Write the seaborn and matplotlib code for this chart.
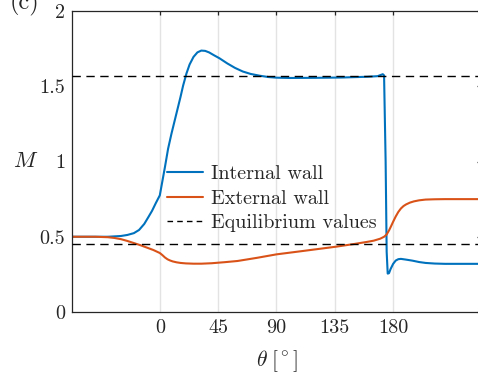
import matplotlib
matplotlib.use("Agg")
import matplotlib.pyplot as plt
from matplotlib.lines import Line2D
import pandas as pd
import seaborn as sns

# Wall mobility M along the bend angle theta (degrees)
theta_internal = [-67.5, -50, -40, -30, -25, -20, -16, -12, -9, -6, -3, 0,
                  2, 4, 6.4, 9, 11.6, 14, 16, 18, 20.6, 23, 26, 29, 32, 35,
                  38, 42, 46, 52, 58, 64, 70, 77, 84, 90, 100, 120, 140, 160,
                  168, 172, 173, 174.2, 175.0, 175.8, 176.8, 178, 180, 182,
                  184, 186, 190, 195, 200, 205, 212, 220, 248]
m_internal = [0.500, 0.500, 0.500, 0.505, 0.512, 0.524, 0.545, 0.585, 0.628, 0.672,
              0.725, 0.775, 0.870, 0.965, 1.085, 1.185, 1.276, 1.360, 1.430, 1.505,
              1.586, 1.645, 1.695, 1.725, 1.737, 1.735, 1.725, 1.705, 1.686, 1.652,
              1.622, 1.598, 1.582, 1.570, 1.561, 1.557, 1.555, 1.556, 1.558, 1.563,
              1.567, 1.580, 1.572, 1.000, 0.400, 0.255, 0.258, 0.285, 0.320, 0.342,
              0.351, 0.353, 0.348, 0.341, 0.332, 0.326, 0.322, 0.320, 0.320]

theta_external = [-67.5, -50, -40, -35, -30, -25, -20, -15, -10, -5, -2, 0,
                  2, 4, 6, 8, 10, 13, 16, 20, 26, 32, 40, 50, 60, 75, 90,
                  110, 136, 150, 160, 165, 170, 173, 175, 177, 178.5, 180,
                  182, 184, 186, 188, 190, 193, 196, 200, 205, 212, 220, 248]
m_external = [0.500, 0.500, 0.497, 0.492, 0.484, 0.472, 0.458, 0.444, 0.428, 0.412,
              0.400, 0.392, 0.378, 0.362, 0.350, 0.342, 0.336, 0.330, 0.326, 0.323,
              0.321, 0.321, 0.324, 0.331, 0.339, 0.360, 0.383, 0.405, 0.434, 0.452,
              0.466, 0.474, 0.487, 0.500, 0.515, 0.545, 0.572, 0.600, 0.635, 0.665,
              0.688, 0.704, 0.715, 0.727, 0.735, 0.742, 0.747, 0.749, 0.750, 0.750]

m_equilibrium = [1.568, 0.455]

series_names = ["Internal wall", "External wall", "Equilibrium values"]
series_colors = ["#0072BD", "#D95319", "black"]

x_ticks = [0, 45, 90, 135, 180]
x_tick_labels = ["0", "45", "90", "135", "180"]
y_ticks = [0, 0.5, 1, 1.5, 2]
y_tick_labels = ["0", "0.5", "1", "1.5", "2"]

sns.set_theme(style="white")
plt.rcParams.update({
    "font.family": ["cmr10", "DejaVu Serif"],
    "mathtext.fontset": "cm",
    "axes.formatter.use_mathtext": True,
    "axes.unicode_minus": False,
})

W, H = 478, 374
fig = plt.figure(figsize=(W / 100, H / 100), dpi=100)
ax = fig.add_axes([72.3 / W, 62 / H, 409 / W, 301 / H])

df = pd.concat([
    pd.DataFrame({"theta": theta_internal, "M": m_internal, "wall": series_names[0]}),
    pd.DataFrame({"theta": theta_external, "M": m_external, "wall": series_names[1]}),
], ignore_index=True)

sns.lineplot(data=df, x="theta", y="M", hue="wall",
             palette=dict(zip(series_names[:2], series_colors[:2])),
             estimator=None, sort=False, linewidth=1.5, legend=False, ax=ax)

for m in m_equilibrium:
    ax.axhline(m, color=series_colors[2], lw=1.0, dashes=(6, 4), zorder=3)

ax.set_xlim(-67.5, 248.0)
ax.set_ylim(0, 2)
ax.set_xticks(x_ticks)
ax.set_xticklabels(x_tick_labels)
ax.set_yticks(y_ticks)
ax.set_yticklabels(y_tick_labels)

ax.set_axisbelow(True)
ax.xaxis.grid(True, color="#e3e3e3", lw=1.0)
ax.yaxis.grid(False)

for side in ["left", "bottom", "top", "right"]:
    ax.spines[side].set_visible(True)
    ax.spines[side].set_color("#262626")
    ax.spines[side].set_linewidth(0.9)

ax.tick_params(axis="both", direction="in", length=3, width=0.9,
               color="#262626", labelcolor="#262626", labelsize=14.5,
               top=True, right=True, pad=5)

ax.set_xlabel(r"$\theta\;[^\circ]$", fontsize=15.5, color="#262626", labelpad=8)
ax.set_ylabel(r"$M$", fontsize=16, color="#262626", rotation=0,
              labelpad=10, va="center")

handles = [
    Line2D([], [], color=series_colors[0], lw=1.5),
    Line2D([], [], color=series_colors[1], lw=1.5),
    Line2D([], [], color=series_colors[2], lw=1.0, dashes=(4, 3)),
]
ax.legend(handles, series_names, loc="upper left",
          bbox_to_anchor=((167 - 72.3) / 409, (312 - 165) / 301),
          frameon=False, fontsize=14.5, handlelength=1.8, handletextpad=0.4,
          labelspacing=0.32, borderaxespad=0, borderpad=0)

fig.text(10 / W, 1 - 3 / H, "(c)", fontsize=17.5, color="#262626",
         ha="left", va="center")

fig.savefig("out.png", dpi=100)
